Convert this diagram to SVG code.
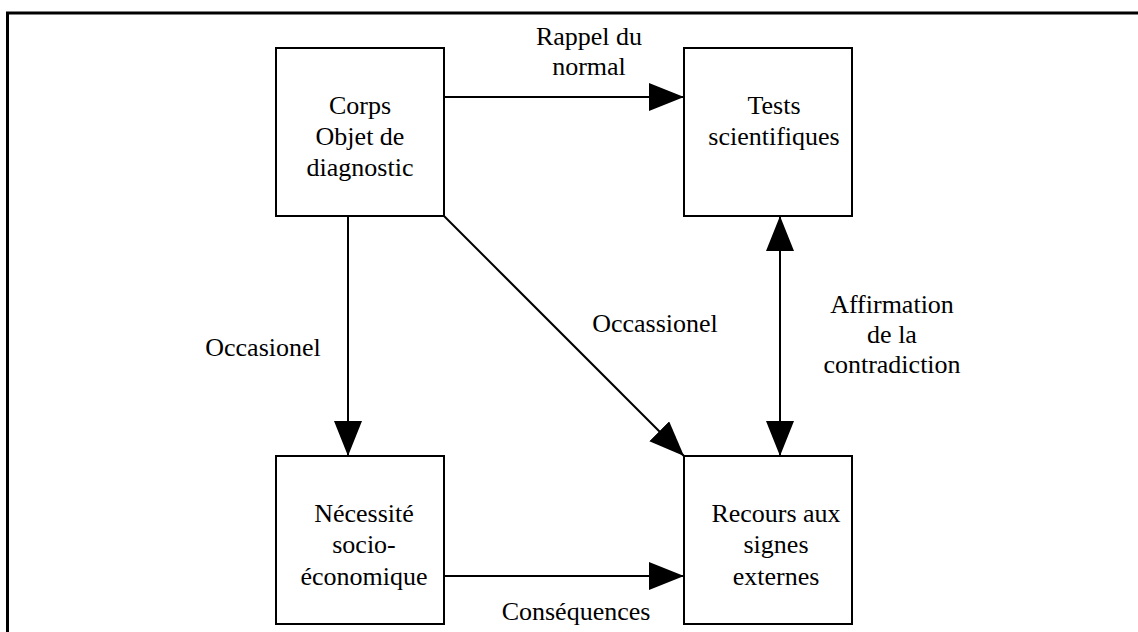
<svg xmlns="http://www.w3.org/2000/svg" width="1138" height="632" viewBox="0 0 1138 632">
<style>
.box{fill:#fff;stroke:#000;stroke-width:2}
.t{font-family:"Liberation Serif","Times New Roman",serif;font-size:26px;fill:#000;text-anchor:middle}
.c{stroke:#000;stroke-width:2;fill:none}
</style>
<defs>
<marker id="ah" markerUnits="userSpaceOnUse" markerWidth="36" markerHeight="30" refX="35" refY="14" orient="auto-start-reverse" viewBox="0 0 36 30">
<polygon points="0,0 35,14 0,28" fill="#000"/>
</marker>
</defs>
<rect x="0" y="0" width="1138" height="632" fill="#fff"/>
<path d="M7.5,640 V13 H1140" fill="none" stroke="#000" stroke-width="3"/>
<g id="connectors">
<line class="c" x1="444" y1="97" x2="684" y2="97" marker-end="url(#ah)"/>
<line class="c" x1="348" y1="216" x2="348" y2="456" marker-end="url(#ah)"/>
<line class="c" x1="444" y1="216" x2="684" y2="456" marker-end="url(#ah)"/>
<line class="c" x1="780" y1="216" x2="780" y2="456" marker-start="url(#ah)" marker-end="url(#ah)"/>
<line class="c" x1="444" y1="576" x2="684" y2="576" marker-end="url(#ah)"/>
<text class="t" x="589" y="45">Rappel du</text>
<text class="t" x="589" y="75">normal</text>
<text class="t" x="263" y="356">Occasionel</text>
<text class="t" x="655" y="332">Occassionel</text>
<text class="t" x="892" y="313">Affirmation</text>
<text class="t" x="892" y="343">de la</text>
<text class="t" x="892" y="373">contradiction</text>
<text class="t" x="576" y="620">Conséquences</text>
</g>
<g id="corps">
<rect class="box" x="276" y="48" width="168" height="168"/>
<text class="t" x="360" y="114">Corps</text>
<text class="t" x="360" y="145">Objet de</text>
<text class="t" x="360" y="176">diagnostic</text>
</g>
<g id="tests">
<rect class="box" x="684" y="48" width="168" height="168"/>
<text class="t" x="774" y="114">Tests</text>
<text class="t" x="774" y="145">scientifiques</text>
</g>
<g id="necessite">
<rect class="box" x="276" y="456" width="168" height="168"/>
<text class="t" x="364" y="522">Nécessité</text>
<text class="t" x="364" y="553">socio-</text>
<text class="t" x="364" y="585">économique</text>
</g>
<g id="recours">
<rect class="box" x="684" y="456" width="168" height="168"/>
<text class="t" x="776" y="522">Recours aux</text>
<text class="t" x="776" y="553">signes</text>
<text class="t" x="776" y="585">externes</text>
</g>
</svg>
